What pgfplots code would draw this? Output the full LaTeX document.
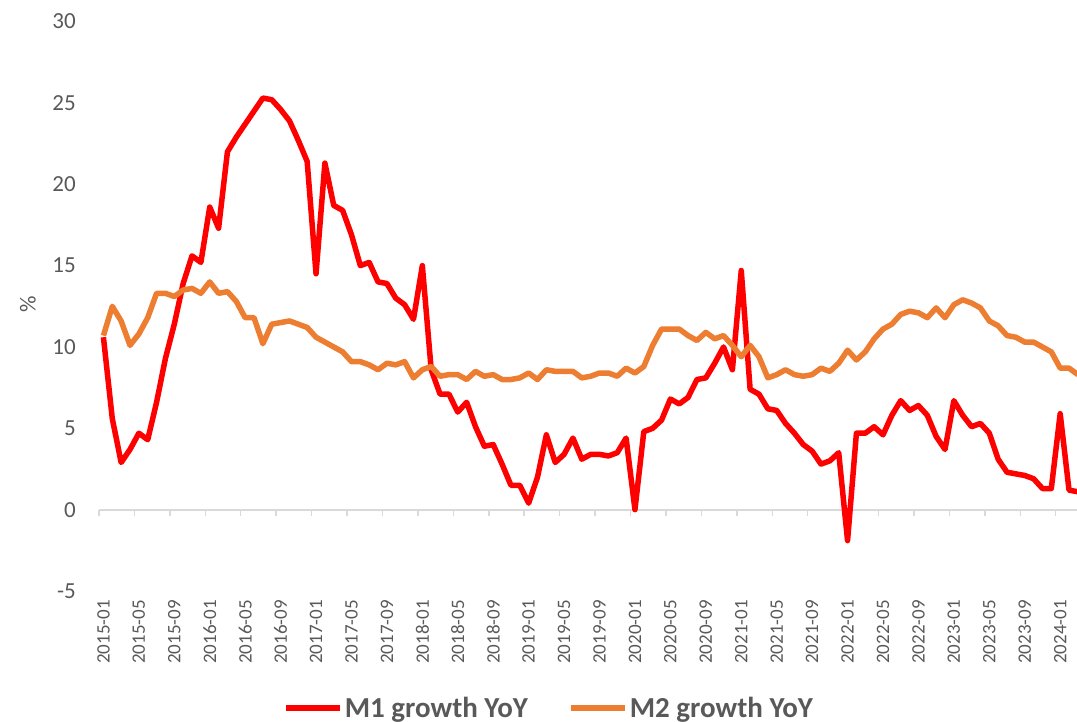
\documentclass[border=0pt]{standalone}
\usepackage{fontspec}
\setmainfont{Carlito}
\usepackage{pgfplots}
\usepackage{pgfplotstable}
\pgfplotsset{compat=1.18}
\definecolor{mred}{HTML}{FF0000}
\definecolor{morange}{HTML}{ED7D31}
\definecolor{tgray}{HTML}{595959}
\definecolor{lgray}{HTML}{D9D9D9}
\pgfplotstableread{
i m1 m2
0 10.6 10.7
1 5.6 12.5
2 2.9 11.6
3 3.7 10.1
4 4.7 10.8
5 4.3 11.8
6 6.6 13.3
7 9.3 13.3
8 11.4 13.1
9 13.9 13.5
10 15.6 13.6
11 15.2 13.3
12 18.6 14.0
13 17.3 13.3
14 22.0 13.4
15 22.9 12.8
16 23.7 11.8
17 24.5 11.8
18 25.3 10.2
19 25.2 11.4
20 24.6 11.5
21 23.9 11.6
22 22.7 11.4
23 21.4 11.2
24 14.5 10.6
25 21.3 10.3
26 18.7 10.0
27 18.4 9.7
28 16.9 9.1
29 15.0 9.1
30 15.2 8.9
31 14.0 8.6
32 13.9 9.0
33 13.0 8.9
34 12.6 9.1
35 11.7 8.1
36 15.0 8.6
37 8.6 8.8
38 7.1 8.2
39 7.1 8.3
40 6.0 8.3
41 6.6 8.0
42 5.1 8.5
43 3.9 8.2
44 4.0 8.3
45 2.8 8.0
46 1.5 8.0
47 1.5 8.1
48 0.4 8.4
49 2.0 8.0
50 4.6 8.6
51 2.9 8.5
52 3.4 8.5
53 4.4 8.5
54 3.1 8.1
55 3.4 8.2
56 3.4 8.4
57 3.3 8.4
58 3.5 8.2
59 4.4 8.7
60 0.0 8.4
61 4.8 8.8
62 5.0 10.1
63 5.5 11.1
64 6.8 11.1
65 6.5 11.1
66 6.9 10.7
67 8.0 10.4
68 8.1 10.9
69 9.0 10.5
70 10.0 10.7
71 8.6 10.1
72 14.7 9.4
73 7.4 10.1
74 7.1 9.4
75 6.2 8.1
76 6.1 8.3
77 5.3 8.6
78 4.7 8.3
79 4.0 8.2
80 3.6 8.3
81 2.8 8.7
82 3.0 8.5
83 3.5 9.0
84 -1.9 9.8
85 4.7 9.2
86 4.7 9.7
87 5.1 10.5
88 4.6 11.1
89 5.8 11.4
90 6.7 12.0
91 6.1 12.2
92 6.4 12.1
93 5.8 11.8
94 4.5 12.4
95 3.7 11.8
96 6.7 12.6
97 5.8 12.9
98 5.1 12.7
99 5.3 12.4
100 4.7 11.6
101 3.1 11.3
102 2.3 10.7
103 2.2 10.6
104 2.1 10.3
105 1.9 10.3
106 1.3 10.0
107 1.3 9.7
108 5.9 8.7
109 1.2 8.7
110 1.1 8.3
}\data
\begin{document}
\begin{tikzpicture}
% zero line with tick marks
\begin{axis}[
  at={(0pt,0pt)}, anchor=south west,
  scale only axis, width=978pt, height=488.07pt,
  xmin=-0.5, xmax=109.9, ymin=0, ymax=30,
  axis x line=bottom, axis y line=none,
  x axis line style={-, draw=lgray, line width=2pt},
  xtick={-0.5,3.5,...,107.5}, xticklabels={},
  ytick=\empty,
  tick align=outside, major tick length=6pt,
  xtick style={draw=lgray, line width=1.5pt},
]
\end{axis}
\begin{axis}[
  at={(0pt,-81.34pt)}, anchor=south west,
  scale only axis, width=978pt, height=569.4pt,
  xmin=-0.5, xmax=109.9, ymin=-5, ymax=30,
  axis line style={draw=none},
  tick style={draw=none},
  xtick={0,4,...,108},
  xticklabels={2015-01,2015-05,2015-09,2016-01,2016-05,2016-09,2017-01,2017-05,2017-09,2018-01,2018-05,2018-09,2019-01,2019-05,2019-09,2020-01,2020-05,2020-09,2021-01,2021-05,2021-09,2022-01,2022-05,2022-09,2023-01,2023-05,2023-09,2024-01},
  xticklabel style={rotate=90, anchor=east, inner sep=0pt, font=\fontsize{19}{23}\selectfont, text=tgray},
  xticklabel shift=9pt,
  ytick={-5,0,...,30},
  yticklabel style={anchor=east, inner sep=0pt, xshift=-23pt, font=\fontsize{23}{28}\selectfont, text=tgray},
  /pgf/number format/assume math mode=true,
  ylabel={\%},
  ylabel style={at={(axis description cs:-0.0726,0.503)}, anchor=center, font=\fontsize{23}{28}\selectfont, text=tgray},
  legend columns=2,
  legend style={at={(0.46,-0.205)}, anchor=center, draw=none, fill=none,
    font=\bfseries\fontsize{29}{35}\selectfont, text=tgray,
    /tikz/every even column/.append style={column sep=38pt}},
  legend image code/.code={\draw[#1, line width=6pt] (0pt,0pt) -- (54pt,0pt);},
]
\addplot[mred, line width=5.5pt, line join=round] table[x=i, y=m1] {\data};
\addlegendentry{M1 growth YoY}
\addplot[morange, line width=5.5pt, line join=round] table[x=i, y=m2] {\data};
\addlegendentry{M2 growth YoY}
\end{axis}
\pgfresetboundingbox
\useasboundingbox (-99pt,-211.34pt) rectangle (978pt,509.66pt);
\end{tikzpicture}
\end{document}
